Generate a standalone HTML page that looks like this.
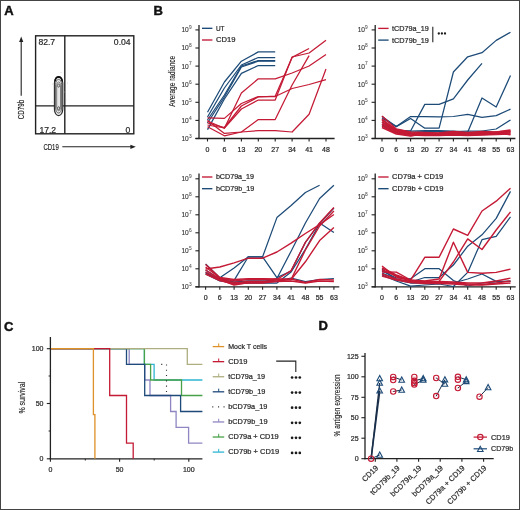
<!DOCTYPE html><html><head><meta charset="utf-8"><style>html,body{margin:0;padding:0;background:#fff;}svg{display:block;will-change:transform;font-family:"Liberation Sans",sans-serif;}</style></head><body>
<svg width="520" height="510" viewBox="0 0 520 510">
<rect x="0" y="0" width="520" height="510" fill="#fff"/>
<rect x="0.5" y="0.5" width="519" height="509" fill="none" stroke="#444" stroke-width="1"/>
<text x="4.2" y="15.4" font-size="13" font-weight="bold" fill="#111" stroke="#111" stroke-width="0.45">A</text>
<text x="153.4" y="15.2" font-size="13" font-weight="bold" fill="#111" stroke="#111" stroke-width="0.45">B</text>
<text x="4" y="330.5" font-size="13" font-weight="bold" fill="#111" stroke="#111" stroke-width="0.45">C</text>
<text x="318.4" y="329.8" font-size="13" font-weight="bold" fill="#111" stroke="#111" stroke-width="0.45">D</text>
<rect x="35.6" y="35.8" width="98.2" height="98" fill="none" stroke="#222" stroke-width="1.4"/>
<line x1="64.8" y1="35.8" x2="64.8" y2="133.8" stroke="#222" stroke-width="1.4"/>
<line x1="35.6" y1="105.9" x2="133.8" y2="105.9" stroke="#222" stroke-width="1.4"/>
<path d="M54.40,83.10 A4.2,6.5 0 0 1 62.80,83.10 V109.10 A4.2,6.5 0 0 1 54.40,109.10 Z" fill="#e6e6e6" stroke="#2a2a2a" stroke-width="1.1"/>
<path d="M55.60,84.40 A3.0,5.0 0 0 1 61.60,84.40 V108.00 A3.0,5.0 0 0 1 55.60,108.00 Z" fill="none" stroke="#555" stroke-width="0.9"/>
<path d="M56.70,85.60 A1.9,3.6 0 0 1 60.50,85.60 V107.20 A1.9,3.6 0 0 1 56.70,107.20 Z" fill="none" stroke="#666" stroke-width="0.8"/>
<ellipse cx="58.6" cy="85.6" rx="1.0" ry="1.6" fill="none" stroke="#444" stroke-width="0.8"/>
<ellipse cx="58.6" cy="108.2" rx="1.0" ry="1.6" fill="none" stroke="#444" stroke-width="0.8"/>
<path d="M55.0,81.5 Q55.4,77.0 58.6,76.8 Q61.8,77.0 62.2,81.5" fill="none" stroke="#111" stroke-width="1.7"/>
<circle cx="52.5" cy="84" r="0.4" fill="#aaa"/>
<circle cx="64.5" cy="92" r="0.4" fill="#aaa"/>
<circle cx="66" cy="100" r="0.4" fill="#aaa"/>
<circle cx="52" cy="102" r="0.4" fill="#aaa"/>
<circle cx="61" cy="72.5" r="0.4" fill="#aaa"/>
<circle cx="67.5" cy="83" r="0.4" fill="#aaa"/>
<circle cx="53" cy="111" r="0.4" fill="#aaa"/>
<circle cx="65.5" cy="112" r="0.4" fill="#aaa"/>
<text x="38.4" y="44.9" font-size="8.6" text-anchor="start" fill="#2a2a2a" stroke="#2a2a2a" stroke-width="0.22" >82.7</text>
<text x="130.6" y="44.9" font-size="8.6" text-anchor="end" fill="#2a2a2a" stroke="#2a2a2a" stroke-width="0.22" >0.04</text>
<text x="39.4" y="132.6" font-size="8.6" text-anchor="start" fill="#2a2a2a" stroke="#2a2a2a" stroke-width="0.22" >17.2</text>
<text x="130.4" y="132.6" font-size="8.6" text-anchor="end" fill="#2a2a2a" stroke="#2a2a2a" stroke-width="0.22" >0</text>
<line x1="21.2" y1="95.8" x2="21.2" y2="40" stroke="#222" stroke-width="1.1"/>
<polygon points="21.2,36.6 19.1,42 23.3,42" fill="#222"/>
<line x1="62.3" y1="146.8" x2="132" y2="146.8" stroke="#222" stroke-width="1.1"/>
<polygon points="135.8,146.8 130.4,144.7 130.4,148.9" fill="#222"/>
<text x="0" y="0" font-size="9" fill="#222" stroke="#222" stroke-width="0.15" textLength="15.4" lengthAdjust="spacingAndGlyphs" transform="translate(43.4,150.3)">CD19</text>
<text x="0" y="0" font-size="9" fill="#222" stroke="#222" stroke-width="0.15" textLength="19.4" lengthAdjust="spacingAndGlyphs" transform="translate(24.2,119.2) rotate(-90)">CD79b</text>
<line x1="199" y1="25" x2="199" y2="139.1" stroke="#222" stroke-width="1.3"/>
<line x1="195.4" y1="138.5" x2="334.6" y2="138.5" stroke="#222" stroke-width="1.3"/>
<line x1="195.4" y1="138.5" x2="199" y2="138.5" stroke="#222" stroke-width="1.1"/>
<text x="188.8" y="140.9" font-size="6.6" text-anchor="end" fill="#333" stroke="#333" stroke-width="0.12">10</text>
<text x="188.9" y="137.8" font-size="4.8" fill="#555" stroke="#555" stroke-width="0.08">3</text>
<line x1="195.4" y1="120.4" x2="199" y2="120.4" stroke="#222" stroke-width="1.1"/>
<text x="188.8" y="122.8" font-size="6.6" text-anchor="end" fill="#333" stroke="#333" stroke-width="0.12">10</text>
<text x="188.9" y="119.7" font-size="4.8" fill="#555" stroke="#555" stroke-width="0.08">4</text>
<line x1="195.4" y1="102.3" x2="199" y2="102.3" stroke="#222" stroke-width="1.1"/>
<text x="188.8" y="104.7" font-size="6.6" text-anchor="end" fill="#333" stroke="#333" stroke-width="0.12">10</text>
<text x="188.9" y="101.6" font-size="4.8" fill="#555" stroke="#555" stroke-width="0.08">5</text>
<line x1="195.4" y1="84.2" x2="199" y2="84.2" stroke="#222" stroke-width="1.1"/>
<text x="188.8" y="86.6" font-size="6.6" text-anchor="end" fill="#333" stroke="#333" stroke-width="0.12">10</text>
<text x="188.9" y="83.5" font-size="4.8" fill="#555" stroke="#555" stroke-width="0.08">6</text>
<line x1="195.4" y1="66.1" x2="199" y2="66.1" stroke="#222" stroke-width="1.1"/>
<text x="188.8" y="68.5" font-size="6.6" text-anchor="end" fill="#333" stroke="#333" stroke-width="0.12">10</text>
<text x="188.9" y="65.4" font-size="4.8" fill="#555" stroke="#555" stroke-width="0.08">7</text>
<line x1="195.4" y1="48.0" x2="199" y2="48.0" stroke="#222" stroke-width="1.1"/>
<text x="188.8" y="50.4" font-size="6.6" text-anchor="end" fill="#333" stroke="#333" stroke-width="0.12">10</text>
<text x="188.9" y="47.3" font-size="4.8" fill="#555" stroke="#555" stroke-width="0.08">8</text>
<line x1="195.4" y1="29.9" x2="199" y2="29.9" stroke="#222" stroke-width="1.1"/>
<text x="188.8" y="32.3" font-size="6.6" text-anchor="end" fill="#333" stroke="#333" stroke-width="0.12">10</text>
<text x="188.9" y="29.2" font-size="4.8" fill="#555" stroke="#555" stroke-width="0.08">9</text>
<line x1="207.5" y1="138.5" x2="207.5" y2="141.5" stroke="#222" stroke-width="1.1"/>
<text x="207.5" y="151.9" font-size="7" text-anchor="middle" fill="#2a2a2a" stroke="#2a2a2a" stroke-width="0.22" >0</text>
<line x1="224.4" y1="138.5" x2="224.4" y2="141.5" stroke="#222" stroke-width="1.1"/>
<text x="224.4" y="151.9" font-size="7" text-anchor="middle" fill="#2a2a2a" stroke="#2a2a2a" stroke-width="0.22" >6</text>
<line x1="241.4" y1="138.5" x2="241.4" y2="141.5" stroke="#222" stroke-width="1.1"/>
<text x="241.4" y="151.9" font-size="7" text-anchor="middle" fill="#2a2a2a" stroke="#2a2a2a" stroke-width="0.22" >13</text>
<line x1="258.3" y1="138.5" x2="258.3" y2="141.5" stroke="#222" stroke-width="1.1"/>
<text x="258.3" y="151.9" font-size="7" text-anchor="middle" fill="#2a2a2a" stroke="#2a2a2a" stroke-width="0.22" >20</text>
<line x1="275.2" y1="138.5" x2="275.2" y2="141.5" stroke="#222" stroke-width="1.1"/>
<text x="275.2" y="151.9" font-size="7" text-anchor="middle" fill="#2a2a2a" stroke="#2a2a2a" stroke-width="0.22" >27</text>
<line x1="292.1" y1="138.5" x2="292.1" y2="141.5" stroke="#222" stroke-width="1.1"/>
<text x="292.1" y="151.9" font-size="7" text-anchor="middle" fill="#2a2a2a" stroke="#2a2a2a" stroke-width="0.22" >34</text>
<line x1="309.1" y1="138.5" x2="309.1" y2="141.5" stroke="#222" stroke-width="1.1"/>
<text x="309.1" y="151.9" font-size="7" text-anchor="middle" fill="#2a2a2a" stroke="#2a2a2a" stroke-width="0.22" >41</text>
<line x1="326.0" y1="138.5" x2="326.0" y2="141.5" stroke="#222" stroke-width="1.1"/>
<text x="326.0" y="151.9" font-size="7" text-anchor="middle" fill="#2a2a2a" stroke="#2a2a2a" stroke-width="0.22" >48</text>
<polyline points="207.5,112.3 224.4,82.0 241.4,61.2 258.3,51.9 275.2,51.9" fill="none" stroke="#1d4b78" stroke-width="1.25" stroke-linejoin="round" />
<polyline points="207.5,117.0 224.4,88.0 241.4,65.0 258.3,57.5 275.2,57.5" fill="none" stroke="#1d4b78" stroke-width="1.25" stroke-linejoin="round" />
<polyline points="207.5,120.0 224.4,95.0 241.4,66.0 258.3,60.5 275.2,60.5" fill="none" stroke="#1d4b78" stroke-width="1.25" stroke-linejoin="round" />
<polyline points="207.5,123.0 224.4,97.0 241.4,67.0 258.3,61.2 275.2,61.2" fill="none" stroke="#1d4b78" stroke-width="1.25" stroke-linejoin="round" />
<polyline points="207.5,129.6 224.4,99.0 241.4,73.4 258.3,65.5 275.2,65.5" fill="none" stroke="#1d4b78" stroke-width="1.25" stroke-linejoin="round" />
<polyline points="207.5,121.0 224.4,128.3 241.4,93.1 258.3,78.8 275.2,78.9 292.1,73.0 309.1,66.0 326.0,54.6" fill="none" stroke="#c41a35" stroke-width="1.25" stroke-linejoin="round" />
<polyline points="207.5,123.0 224.4,127.5 241.4,106.0 258.3,97.0 275.2,96.2 292.1,57.4 309.1,48.5" fill="none" stroke="#c41a35" stroke-width="1.25" stroke-linejoin="round" />
<polyline points="207.5,125.0 224.4,128.0 241.4,109.0 258.3,100.0 275.2,100.0 292.1,57.0 309.1,53.0 326.0,40.3" fill="none" stroke="#c41a35" stroke-width="1.25" stroke-linejoin="round" />
<polyline points="207.5,117.8 224.4,118.4 241.4,103.5 258.3,96.5 275.2,96.5 292.1,88.5 309.1,84.5 326.0,79.7" fill="none" stroke="#c41a35" stroke-width="1.25" stroke-linejoin="round" />
<polyline points="207.5,120.5 224.4,133.4 241.4,132.0 258.3,119.6 275.2,119.6 292.1,85.0 309.1,55.6" fill="none" stroke="#c41a35" stroke-width="1.25" stroke-linejoin="round" />
<polyline points="207.5,126.7 224.4,135.8 241.4,132.0 258.3,130.6 275.2,130.6 292.1,132.0 309.1,114.3 326.0,69.0" fill="none" stroke="#c41a35" stroke-width="1.25" stroke-linejoin="round" />
<line x1="202.0" y1="28.3" x2="212.4" y2="28.3" stroke="#1d4b78" stroke-width="1.35"/>
<text x="215.9" y="30.7" font-size="7.4" text-anchor="start" fill="#2a2a2a" stroke="#2a2a2a" stroke-width="0.22"  textLength="8.6" lengthAdjust="spacingAndGlyphs">UT</text>
<line x1="202.0" y1="40.0" x2="212.4" y2="40.0" stroke="#c41a35" stroke-width="1.35"/>
<text x="215.9" y="42.4" font-size="7.4" text-anchor="start" fill="#2a2a2a" stroke="#2a2a2a" stroke-width="0.22"  textLength="19.5" lengthAdjust="spacingAndGlyphs">CD19</text>
<text x="0" y="0" font-size="8.6" fill="#222" stroke="#222" stroke-width="0.15" textLength="51" lengthAdjust="spacingAndGlyphs" transform="translate(175.2,106.8) rotate(-90)">Average radiance</text>
<line x1="375.2" y1="25" x2="375.2" y2="139.1" stroke="#222" stroke-width="1.3"/>
<line x1="371.59999999999997" y1="138.5" x2="515.4" y2="138.5" stroke="#222" stroke-width="1.3"/>
<line x1="371.59999999999997" y1="138.5" x2="375.2" y2="138.5" stroke="#222" stroke-width="1.1"/>
<text x="365.0" y="140.9" font-size="6.6" text-anchor="end" fill="#333" stroke="#333" stroke-width="0.12">10</text>
<text x="365.1" y="137.8" font-size="4.8" fill="#555" stroke="#555" stroke-width="0.08">3</text>
<line x1="371.59999999999997" y1="120.4" x2="375.2" y2="120.4" stroke="#222" stroke-width="1.1"/>
<text x="365.0" y="122.8" font-size="6.6" text-anchor="end" fill="#333" stroke="#333" stroke-width="0.12">10</text>
<text x="365.1" y="119.7" font-size="4.8" fill="#555" stroke="#555" stroke-width="0.08">4</text>
<line x1="371.59999999999997" y1="102.3" x2="375.2" y2="102.3" stroke="#222" stroke-width="1.1"/>
<text x="365.0" y="104.7" font-size="6.6" text-anchor="end" fill="#333" stroke="#333" stroke-width="0.12">10</text>
<text x="365.1" y="101.6" font-size="4.8" fill="#555" stroke="#555" stroke-width="0.08">5</text>
<line x1="371.59999999999997" y1="84.2" x2="375.2" y2="84.2" stroke="#222" stroke-width="1.1"/>
<text x="365.0" y="86.6" font-size="6.6" text-anchor="end" fill="#333" stroke="#333" stroke-width="0.12">10</text>
<text x="365.1" y="83.5" font-size="4.8" fill="#555" stroke="#555" stroke-width="0.08">6</text>
<line x1="371.59999999999997" y1="66.1" x2="375.2" y2="66.1" stroke="#222" stroke-width="1.1"/>
<text x="365.0" y="68.5" font-size="6.6" text-anchor="end" fill="#333" stroke="#333" stroke-width="0.12">10</text>
<text x="365.1" y="65.4" font-size="4.8" fill="#555" stroke="#555" stroke-width="0.08">7</text>
<line x1="371.59999999999997" y1="48.0" x2="375.2" y2="48.0" stroke="#222" stroke-width="1.1"/>
<text x="365.0" y="50.4" font-size="6.6" text-anchor="end" fill="#333" stroke="#333" stroke-width="0.12">10</text>
<text x="365.1" y="47.3" font-size="4.8" fill="#555" stroke="#555" stroke-width="0.08">8</text>
<line x1="371.59999999999997" y1="29.9" x2="375.2" y2="29.9" stroke="#222" stroke-width="1.1"/>
<text x="365.0" y="32.3" font-size="6.6" text-anchor="end" fill="#333" stroke="#333" stroke-width="0.12">10</text>
<text x="365.1" y="29.2" font-size="4.8" fill="#555" stroke="#555" stroke-width="0.08">9</text>
<line x1="382.0" y1="138.5" x2="382.0" y2="141.5" stroke="#222" stroke-width="1.1"/>
<text x="382.0" y="151.9" font-size="7" text-anchor="middle" fill="#2a2a2a" stroke="#2a2a2a" stroke-width="0.22" >0</text>
<line x1="396.3" y1="138.5" x2="396.3" y2="141.5" stroke="#222" stroke-width="1.1"/>
<text x="396.3" y="151.9" font-size="7" text-anchor="middle" fill="#2a2a2a" stroke="#2a2a2a" stroke-width="0.22" >6</text>
<line x1="410.6" y1="138.5" x2="410.6" y2="141.5" stroke="#222" stroke-width="1.1"/>
<text x="410.6" y="151.9" font-size="7" text-anchor="middle" fill="#2a2a2a" stroke="#2a2a2a" stroke-width="0.22" >13</text>
<line x1="424.8" y1="138.5" x2="424.8" y2="141.5" stroke="#222" stroke-width="1.1"/>
<text x="424.8" y="151.9" font-size="7" text-anchor="middle" fill="#2a2a2a" stroke="#2a2a2a" stroke-width="0.22" >20</text>
<line x1="439.1" y1="138.5" x2="439.1" y2="141.5" stroke="#222" stroke-width="1.1"/>
<text x="439.1" y="151.9" font-size="7" text-anchor="middle" fill="#2a2a2a" stroke="#2a2a2a" stroke-width="0.22" >27</text>
<line x1="453.4" y1="138.5" x2="453.4" y2="141.5" stroke="#222" stroke-width="1.1"/>
<text x="453.4" y="151.9" font-size="7" text-anchor="middle" fill="#2a2a2a" stroke="#2a2a2a" stroke-width="0.22" >34</text>
<line x1="467.7" y1="138.5" x2="467.7" y2="141.5" stroke="#222" stroke-width="1.1"/>
<text x="467.7" y="151.9" font-size="7" text-anchor="middle" fill="#2a2a2a" stroke="#2a2a2a" stroke-width="0.22" >41</text>
<line x1="482.0" y1="138.5" x2="482.0" y2="141.5" stroke="#222" stroke-width="1.1"/>
<text x="482.0" y="151.9" font-size="7" text-anchor="middle" fill="#2a2a2a" stroke="#2a2a2a" stroke-width="0.22" >48</text>
<line x1="496.2" y1="138.5" x2="496.2" y2="141.5" stroke="#222" stroke-width="1.1"/>
<text x="496.2" y="151.9" font-size="7" text-anchor="middle" fill="#2a2a2a" stroke="#2a2a2a" stroke-width="0.22" >55</text>
<line x1="510.5" y1="138.5" x2="510.5" y2="141.5" stroke="#222" stroke-width="1.1"/>
<text x="510.5" y="151.9" font-size="7" text-anchor="middle" fill="#2a2a2a" stroke="#2a2a2a" stroke-width="0.22" >63</text>
<polyline points="382.0,122.0 396.3,130.0 410.6,131.0 424.8,104.4 439.1,104.4 453.4,98.8 467.7,80.0 482.0,63.3" fill="none" stroke="#1d4b78" stroke-width="1.25" stroke-linejoin="round" />
<polyline points="382.0,116.5 396.3,126.6 410.6,118.5 424.8,128.2 439.1,128.2 453.4,72.0 467.7,56.8 482.0,52.7 496.2,40.4 510.5,32.3" fill="none" stroke="#1d4b78" stroke-width="1.25" stroke-linejoin="round" />
<polyline points="382.0,118.0 396.3,126.6 410.6,116.5 424.8,116.5 439.1,116.8 453.4,116.5 467.7,114.3 482.0,117.3 496.2,115.6 510.5,109.1" fill="none" stroke="#1d4b78" stroke-width="1.25" stroke-linejoin="round" />
<polyline points="382.0,124.0 396.3,131.0 410.6,131.0 424.8,130.5 439.1,130.5 453.4,131.0 467.7,132.3 482.0,98.0 496.2,107.0 510.5,75.6" fill="none" stroke="#1d4b78" stroke-width="1.25" stroke-linejoin="round" />
<polyline points="382.0,125.0 396.3,132.0 410.6,132.0 424.8,131.5 439.1,131.5 453.4,131.5 467.7,131.0 482.0,131.0 496.2,129.0 510.5,120.0" fill="none" stroke="#1d4b78" stroke-width="1.25" stroke-linejoin="round" />
<polyline points="382.0,116.0 396.3,129.0 410.6,132.0 424.8,132.5 439.1,133.0 453.4,131.5 467.7,132.5 482.0,131.5 496.2,132.0 510.5,130.0" fill="none" stroke="#c41a35" stroke-width="1.6" stroke-linejoin="round" />
<polyline points="382.0,119.0 396.3,130.5 410.6,133.5 424.8,134.0 439.1,134.0 453.4,133.0 467.7,134.0 482.0,133.0 496.2,133.5 510.5,131.5" fill="none" stroke="#c41a35" stroke-width="1.6" stroke-linejoin="round" />
<polyline points="382.0,122.0 396.3,131.5 410.6,134.0 424.8,135.0 439.1,135.0 453.4,134.0 467.7,135.0 482.0,134.5 496.2,134.0 510.5,133.0" fill="none" stroke="#c41a35" stroke-width="1.6" stroke-linejoin="round" />
<polyline points="382.0,124.0 396.3,132.0 410.6,135.0 424.8,135.5 439.1,135.5 453.4,135.0 467.7,135.5 482.0,135.0 496.2,134.5 510.5,134.0" fill="none" stroke="#c41a35" stroke-width="1.6" stroke-linejoin="round" />
<polyline points="382.0,126.0 396.3,133.0 410.6,135.5 424.8,134.5 439.1,134.5 453.4,133.5 467.7,134.0 482.0,134.0 496.2,133.0 510.5,132.0" fill="none" stroke="#c41a35" stroke-width="1.6" stroke-linejoin="round" />
<polyline points="382.0,127.5 396.3,134.0 410.6,136.0 424.8,133.5 439.1,133.0 453.4,132.0 467.7,133.0 482.0,132.5 496.2,132.5 510.5,134.8" fill="none" stroke="#c41a35" stroke-width="1.6" stroke-linejoin="round" />
<polyline points="382.0,120.0 396.3,130.0 410.6,133.0 424.8,134.0 439.1,133.5 453.4,132.5 467.7,133.5 482.0,134.0 496.2,132.0 510.5,131.0" fill="none" stroke="#c41a35" stroke-width="1.6" stroke-linejoin="round" />
<line x1="378.2" y1="28.4" x2="388.6" y2="28.4" stroke="#c41a35" stroke-width="1.35"/>
<text x="392.1" y="30.8" font-size="7.4" text-anchor="start" fill="#2a2a2a" stroke="#2a2a2a" stroke-width="0.22"  textLength="36.6" lengthAdjust="spacingAndGlyphs">tCD79a_19</text>
<line x1="378.2" y1="40.099999999999994" x2="388.6" y2="40.099999999999994" stroke="#1d4b78" stroke-width="1.35"/>
<text x="392.1" y="42.5" font-size="7.4" text-anchor="start" fill="#2a2a2a" stroke="#2a2a2a" stroke-width="0.22"  textLength="36.8" lengthAdjust="spacingAndGlyphs">tCD79b_19</text>
<line x1="432.8" y1="26.7" x2="432.8" y2="42.2" stroke="#222" stroke-width="1.1"/>
<circle cx="438.8" cy="33.5" r="1.15" fill="#1a1a1a"/>
<circle cx="441.9" cy="33.5" r="1.15" fill="#1a1a1a"/>
<circle cx="445.0" cy="33.5" r="1.15" fill="#1a1a1a"/>
<line x1="199" y1="173.5" x2="199" y2="287.40000000000003" stroke="#222" stroke-width="1.3"/>
<line x1="195.4" y1="286.8" x2="339.3" y2="286.8" stroke="#222" stroke-width="1.3"/>
<line x1="195.4" y1="286.8" x2="199" y2="286.8" stroke="#222" stroke-width="1.1"/>
<text x="188.8" y="289.2" font-size="6.6" text-anchor="end" fill="#333" stroke="#333" stroke-width="0.12">10</text>
<text x="188.9" y="286.1" font-size="4.8" fill="#555" stroke="#555" stroke-width="0.08">3</text>
<line x1="195.4" y1="268.8" x2="199" y2="268.8" stroke="#222" stroke-width="1.1"/>
<text x="188.8" y="271.2" font-size="6.6" text-anchor="end" fill="#333" stroke="#333" stroke-width="0.12">10</text>
<text x="188.9" y="268.1" font-size="4.8" fill="#555" stroke="#555" stroke-width="0.08">4</text>
<line x1="195.4" y1="250.8" x2="199" y2="250.8" stroke="#222" stroke-width="1.1"/>
<text x="188.8" y="253.2" font-size="6.6" text-anchor="end" fill="#333" stroke="#333" stroke-width="0.12">10</text>
<text x="188.9" y="250.1" font-size="4.8" fill="#555" stroke="#555" stroke-width="0.08">5</text>
<line x1="195.4" y1="232.8" x2="199" y2="232.8" stroke="#222" stroke-width="1.1"/>
<text x="188.8" y="235.2" font-size="6.6" text-anchor="end" fill="#333" stroke="#333" stroke-width="0.12">10</text>
<text x="188.9" y="232.1" font-size="4.8" fill="#555" stroke="#555" stroke-width="0.08">6</text>
<line x1="195.4" y1="214.8" x2="199" y2="214.8" stroke="#222" stroke-width="1.1"/>
<text x="188.8" y="217.2" font-size="6.6" text-anchor="end" fill="#333" stroke="#333" stroke-width="0.12">10</text>
<text x="188.9" y="214.1" font-size="4.8" fill="#555" stroke="#555" stroke-width="0.08">7</text>
<line x1="195.4" y1="196.8" x2="199" y2="196.8" stroke="#222" stroke-width="1.1"/>
<text x="188.8" y="199.2" font-size="6.6" text-anchor="end" fill="#333" stroke="#333" stroke-width="0.12">10</text>
<text x="188.9" y="196.1" font-size="4.8" fill="#555" stroke="#555" stroke-width="0.08">8</text>
<line x1="195.4" y1="178.8" x2="199" y2="178.8" stroke="#222" stroke-width="1.1"/>
<text x="188.8" y="181.2" font-size="6.6" text-anchor="end" fill="#333" stroke="#333" stroke-width="0.12">10</text>
<text x="188.9" y="178.1" font-size="4.8" fill="#555" stroke="#555" stroke-width="0.08">9</text>
<line x1="205.6" y1="286.8" x2="205.6" y2="289.8" stroke="#222" stroke-width="1.1"/>
<text x="205.6" y="300.2" font-size="7" text-anchor="middle" fill="#2a2a2a" stroke="#2a2a2a" stroke-width="0.22" >0</text>
<line x1="219.8" y1="286.8" x2="219.8" y2="289.8" stroke="#222" stroke-width="1.1"/>
<text x="219.8" y="300.2" font-size="7" text-anchor="middle" fill="#2a2a2a" stroke="#2a2a2a" stroke-width="0.22" >6</text>
<line x1="234.1" y1="286.8" x2="234.1" y2="289.8" stroke="#222" stroke-width="1.1"/>
<text x="234.1" y="300.2" font-size="7" text-anchor="middle" fill="#2a2a2a" stroke="#2a2a2a" stroke-width="0.22" >13</text>
<line x1="248.3" y1="286.8" x2="248.3" y2="289.8" stroke="#222" stroke-width="1.1"/>
<text x="248.3" y="300.2" font-size="7" text-anchor="middle" fill="#2a2a2a" stroke="#2a2a2a" stroke-width="0.22" >20</text>
<line x1="262.6" y1="286.8" x2="262.6" y2="289.8" stroke="#222" stroke-width="1.1"/>
<text x="262.6" y="300.2" font-size="7" text-anchor="middle" fill="#2a2a2a" stroke="#2a2a2a" stroke-width="0.22" >27</text>
<line x1="276.9" y1="286.8" x2="276.9" y2="289.8" stroke="#222" stroke-width="1.1"/>
<text x="276.9" y="300.2" font-size="7" text-anchor="middle" fill="#2a2a2a" stroke="#2a2a2a" stroke-width="0.22" >34</text>
<line x1="291.1" y1="286.8" x2="291.1" y2="289.8" stroke="#222" stroke-width="1.1"/>
<text x="291.1" y="300.2" font-size="7" text-anchor="middle" fill="#2a2a2a" stroke="#2a2a2a" stroke-width="0.22" >41</text>
<line x1="305.4" y1="286.8" x2="305.4" y2="289.8" stroke="#222" stroke-width="1.1"/>
<text x="305.4" y="300.2" font-size="7" text-anchor="middle" fill="#2a2a2a" stroke="#2a2a2a" stroke-width="0.22" >48</text>
<line x1="319.6" y1="286.8" x2="319.6" y2="289.8" stroke="#222" stroke-width="1.1"/>
<text x="319.6" y="300.2" font-size="7" text-anchor="middle" fill="#2a2a2a" stroke="#2a2a2a" stroke-width="0.22" >55</text>
<line x1="333.9" y1="286.8" x2="333.9" y2="289.8" stroke="#222" stroke-width="1.1"/>
<text x="333.9" y="300.2" font-size="7" text-anchor="middle" fill="#2a2a2a" stroke="#2a2a2a" stroke-width="0.22" >63</text>
<polyline points="205.6,264.0 219.8,277.7 234.1,268.0 248.3,256.8 262.6,256.8 276.9,217.6 291.1,205.5 305.4,192.5 319.6,185.2" fill="none" stroke="#1d4b78" stroke-width="1.25" stroke-linejoin="round" />
<polyline points="205.6,270.0 219.8,279.0 234.1,280.4 248.3,256.8 262.6,256.8 276.9,277.6 291.1,271.0 305.4,242.4 319.6,223.0 333.9,232.6" fill="none" stroke="#1d4b78" stroke-width="1.25" stroke-linejoin="round" />
<polyline points="205.6,272.0 219.8,280.0 234.1,282.0 248.3,282.0 262.6,282.0 276.9,278.5 291.1,251.2 305.4,223.0 319.6,198.5 333.9,185.2" fill="none" stroke="#1d4b78" stroke-width="1.25" stroke-linejoin="round" />
<polyline points="205.6,274.0 219.8,281.0 234.1,283.0 248.3,283.0 262.6,283.0 276.9,283.0 291.1,272.0 305.4,249.4 319.6,223.8 333.9,208.0" fill="none" stroke="#1d4b78" stroke-width="1.25" stroke-linejoin="round" />
<polyline points="205.6,273.0 219.8,280.0 234.1,282.0 248.3,280.8 262.6,280.8 276.9,281.0 291.1,278.0 305.4,281.6 319.6,279.5 333.9,278.5" fill="none" stroke="#1d4b78" stroke-width="1.25" stroke-linejoin="round" />
<polyline points="205.6,269.0 219.8,267.0 234.1,262.9 248.3,258.2 262.6,258.2 276.9,252.0 291.1,243.2 305.4,233.5 319.6,224.7 333.9,214.5" fill="none" stroke="#c41a35" stroke-width="1.4" stroke-linejoin="round" />
<polyline points="205.6,264.5 219.8,277.5 234.1,279.5 248.3,278.8 262.6,278.8 276.9,279.0 291.1,279.5 305.4,261.8 319.6,240.6 333.9,227.4" fill="none" stroke="#c41a35" stroke-width="1.4" stroke-linejoin="round" />
<polyline points="205.6,267.0 219.8,278.0 234.1,281.0 248.3,279.5 262.6,279.5 276.9,279.5 291.1,270.6 305.4,242.4 319.6,223.0 333.9,207.5" fill="none" stroke="#c41a35" stroke-width="1.4" stroke-linejoin="round" />
<polyline points="205.6,270.0 219.8,279.0 234.1,283.0 248.3,281.5 262.6,281.5 276.9,281.0 291.1,279.5 305.4,250.0 319.6,226.0 333.9,211.0" fill="none" stroke="#c41a35" stroke-width="1.4" stroke-linejoin="round" />
<polyline points="205.6,272.0 219.8,279.5 234.1,285.0 248.3,282.5 262.6,282.5 276.9,279.5 291.1,279.0 305.4,282.5 319.6,279.5 333.9,280.0" fill="none" stroke="#c41a35" stroke-width="1.4" stroke-linejoin="round" />
<polyline points="205.6,274.0 219.8,280.5 234.1,284.0 248.3,283.0 262.6,283.0 276.9,281.5 291.1,281.0 305.4,283.0 319.6,281.0 333.9,281.5" fill="none" stroke="#c41a35" stroke-width="1.4" stroke-linejoin="round" />
<line x1="202.0" y1="177.0" x2="212.4" y2="177.0" stroke="#c41a35" stroke-width="1.35"/>
<text x="215.9" y="179.4" font-size="7.4" text-anchor="start" fill="#2a2a2a" stroke="#2a2a2a" stroke-width="0.22"  textLength="38.1" lengthAdjust="spacingAndGlyphs">bCD79a_19</text>
<line x1="202.0" y1="188.7" x2="212.4" y2="188.7" stroke="#1d4b78" stroke-width="1.35"/>
<text x="215.9" y="191.1" font-size="7.4" text-anchor="start" fill="#2a2a2a" stroke="#2a2a2a" stroke-width="0.22"  textLength="38.3" lengthAdjust="spacingAndGlyphs">bCD79b_19</text>
<line x1="375.2" y1="173.5" x2="375.2" y2="287.40000000000003" stroke="#222" stroke-width="1.3"/>
<line x1="371.59999999999997" y1="286.8" x2="515.7" y2="286.8" stroke="#222" stroke-width="1.3"/>
<line x1="371.59999999999997" y1="286.8" x2="375.2" y2="286.8" stroke="#222" stroke-width="1.1"/>
<text x="365.0" y="289.2" font-size="6.6" text-anchor="end" fill="#333" stroke="#333" stroke-width="0.12">10</text>
<text x="365.1" y="286.1" font-size="4.8" fill="#555" stroke="#555" stroke-width="0.08">3</text>
<line x1="371.59999999999997" y1="268.8" x2="375.2" y2="268.8" stroke="#222" stroke-width="1.1"/>
<text x="365.0" y="271.2" font-size="6.6" text-anchor="end" fill="#333" stroke="#333" stroke-width="0.12">10</text>
<text x="365.1" y="268.1" font-size="4.8" fill="#555" stroke="#555" stroke-width="0.08">4</text>
<line x1="371.59999999999997" y1="250.8" x2="375.2" y2="250.8" stroke="#222" stroke-width="1.1"/>
<text x="365.0" y="253.2" font-size="6.6" text-anchor="end" fill="#333" stroke="#333" stroke-width="0.12">10</text>
<text x="365.1" y="250.1" font-size="4.8" fill="#555" stroke="#555" stroke-width="0.08">5</text>
<line x1="371.59999999999997" y1="232.8" x2="375.2" y2="232.8" stroke="#222" stroke-width="1.1"/>
<text x="365.0" y="235.2" font-size="6.6" text-anchor="end" fill="#333" stroke="#333" stroke-width="0.12">10</text>
<text x="365.1" y="232.1" font-size="4.8" fill="#555" stroke="#555" stroke-width="0.08">6</text>
<line x1="371.59999999999997" y1="214.8" x2="375.2" y2="214.8" stroke="#222" stroke-width="1.1"/>
<text x="365.0" y="217.2" font-size="6.6" text-anchor="end" fill="#333" stroke="#333" stroke-width="0.12">10</text>
<text x="365.1" y="214.1" font-size="4.8" fill="#555" stroke="#555" stroke-width="0.08">7</text>
<line x1="371.59999999999997" y1="196.8" x2="375.2" y2="196.8" stroke="#222" stroke-width="1.1"/>
<text x="365.0" y="199.2" font-size="6.6" text-anchor="end" fill="#333" stroke="#333" stroke-width="0.12">10</text>
<text x="365.1" y="196.1" font-size="4.8" fill="#555" stroke="#555" stroke-width="0.08">8</text>
<line x1="371.59999999999997" y1="178.8" x2="375.2" y2="178.8" stroke="#222" stroke-width="1.1"/>
<text x="365.0" y="181.2" font-size="6.6" text-anchor="end" fill="#333" stroke="#333" stroke-width="0.12">10</text>
<text x="365.1" y="178.1" font-size="4.8" fill="#555" stroke="#555" stroke-width="0.08">9</text>
<line x1="382.0" y1="286.8" x2="382.0" y2="289.8" stroke="#222" stroke-width="1.1"/>
<text x="382.0" y="300.2" font-size="7" text-anchor="middle" fill="#2a2a2a" stroke="#2a2a2a" stroke-width="0.22" >0</text>
<line x1="396.3" y1="286.8" x2="396.3" y2="289.8" stroke="#222" stroke-width="1.1"/>
<text x="396.3" y="300.2" font-size="7" text-anchor="middle" fill="#2a2a2a" stroke="#2a2a2a" stroke-width="0.22" >6</text>
<line x1="410.6" y1="286.8" x2="410.6" y2="289.8" stroke="#222" stroke-width="1.1"/>
<text x="410.6" y="300.2" font-size="7" text-anchor="middle" fill="#2a2a2a" stroke="#2a2a2a" stroke-width="0.22" >13</text>
<line x1="424.8" y1="286.8" x2="424.8" y2="289.8" stroke="#222" stroke-width="1.1"/>
<text x="424.8" y="300.2" font-size="7" text-anchor="middle" fill="#2a2a2a" stroke="#2a2a2a" stroke-width="0.22" >20</text>
<line x1="439.1" y1="286.8" x2="439.1" y2="289.8" stroke="#222" stroke-width="1.1"/>
<text x="439.1" y="300.2" font-size="7" text-anchor="middle" fill="#2a2a2a" stroke="#2a2a2a" stroke-width="0.22" >27</text>
<line x1="453.4" y1="286.8" x2="453.4" y2="289.8" stroke="#222" stroke-width="1.1"/>
<text x="453.4" y="300.2" font-size="7" text-anchor="middle" fill="#2a2a2a" stroke="#2a2a2a" stroke-width="0.22" >34</text>
<line x1="467.7" y1="286.8" x2="467.7" y2="289.8" stroke="#222" stroke-width="1.1"/>
<text x="467.7" y="300.2" font-size="7" text-anchor="middle" fill="#2a2a2a" stroke="#2a2a2a" stroke-width="0.22" >41</text>
<line x1="482.0" y1="286.8" x2="482.0" y2="289.8" stroke="#222" stroke-width="1.1"/>
<text x="482.0" y="300.2" font-size="7" text-anchor="middle" fill="#2a2a2a" stroke="#2a2a2a" stroke-width="0.22" >48</text>
<line x1="496.2" y1="286.8" x2="496.2" y2="289.8" stroke="#222" stroke-width="1.1"/>
<text x="496.2" y="300.2" font-size="7" text-anchor="middle" fill="#2a2a2a" stroke="#2a2a2a" stroke-width="0.22" >55</text>
<line x1="510.5" y1="286.8" x2="510.5" y2="289.8" stroke="#222" stroke-width="1.1"/>
<text x="510.5" y="300.2" font-size="7" text-anchor="middle" fill="#2a2a2a" stroke="#2a2a2a" stroke-width="0.22" >63</text>
<polyline points="382.0,271.0 396.3,278.0 410.6,278.8 424.8,268.7 439.1,268.7 453.4,280.6 467.7,286.0 482.0,283.0 496.2,282.0 510.5,281.0" fill="none" stroke="#1d4b78" stroke-width="1.25" stroke-linejoin="round" />
<polyline points="382.0,273.0 396.3,279.0 410.6,282.0 424.8,277.5 439.1,277.5 453.4,265.0 467.7,246.2 482.0,234.8 496.2,218.4 510.5,191.4" fill="none" stroke="#1d4b78" stroke-width="1.25" stroke-linejoin="round" />
<polyline points="382.0,275.0 396.3,281.0 410.6,286.2 424.8,285.0 439.1,284.0 453.4,286.5 467.7,272.4 482.0,239.7 496.2,236.4 510.5,216.8" fill="none" stroke="#1d4b78" stroke-width="1.25" stroke-linejoin="round" />
<polyline points="382.0,269.0 396.3,280.0 410.6,283.0 424.8,283.0 439.1,283.0 453.4,283.0 467.7,279.0 482.0,274.0 496.2,281.4 510.5,281.4" fill="none" stroke="#1d4b78" stroke-width="1.25" stroke-linejoin="round" />
<polyline points="382.0,268.0 396.3,275.0 410.6,280.2 424.8,257.3 439.1,257.3 453.4,229.0 467.7,235.4 482.0,211.0 496.2,201.2 510.5,188.2" fill="none" stroke="#c41a35" stroke-width="1.4" stroke-linejoin="round" />
<polyline points="382.0,272.0 396.3,272.1 410.6,280.0 424.8,281.0 439.1,279.0 453.4,242.2 467.7,272.4 482.0,273.2 496.2,272.4 510.5,269.1" fill="none" stroke="#c41a35" stroke-width="1.4" stroke-linejoin="round" />
<polyline points="382.0,270.0 396.3,276.0 410.6,281.0 424.8,282.0 439.1,281.4 453.4,262.0 467.7,238.9 482.0,249.5 496.2,230.0 510.5,211.9" fill="none" stroke="#c41a35" stroke-width="1.4" stroke-linejoin="round" />
<polyline points="382.0,266.0 396.3,277.0 410.6,280.5 424.8,281.5 439.1,281.5 453.4,282.0 467.7,283.0 482.0,283.0 496.2,281.0 510.5,278.1" fill="none" stroke="#c41a35" stroke-width="1.4" stroke-linejoin="round" />
<polyline points="382.0,274.0 396.3,279.0 410.6,281.5 424.8,282.5 439.1,282.5 453.4,283.0 467.7,284.0 482.0,284.5 496.2,283.0 510.5,281.0" fill="none" stroke="#c41a35" stroke-width="1.4" stroke-linejoin="round" />
<polyline points="382.0,276.0 396.3,280.0 410.6,282.5 424.8,283.5 439.1,283.5 453.4,284.0 467.7,285.0 482.0,285.0 496.2,284.0 510.5,283.0" fill="none" stroke="#c41a35" stroke-width="1.4" stroke-linejoin="round" />
<line x1="378.2" y1="177.0" x2="388.6" y2="177.0" stroke="#c41a35" stroke-width="1.35"/>
<text x="392.1" y="179.4" font-size="7.4" text-anchor="start" fill="#2a2a2a" stroke="#2a2a2a" stroke-width="0.22"  textLength="51.2" lengthAdjust="spacingAndGlyphs">CD79a + CD19</text>
<line x1="378.2" y1="188.7" x2="388.6" y2="188.7" stroke="#1d4b78" stroke-width="1.35"/>
<text x="392.1" y="191.1" font-size="7.4" text-anchor="start" fill="#2a2a2a" stroke="#2a2a2a" stroke-width="0.22"  textLength="51.4" lengthAdjust="spacingAndGlyphs">CD79b + CD19</text>
<line x1="50.4" y1="337" x2="50.4" y2="459.4" stroke="#222" stroke-width="1.3"/>
<line x1="49.8" y1="458.8" x2="202.4" y2="458.8" stroke="#222" stroke-width="1.3"/>
<line x1="46.8" y1="348.7" x2="50.4" y2="348.7" stroke="#222" stroke-width="1.1"/>
<text x="43.5" y="351.3" font-size="7" text-anchor="end" fill="#2a2a2a" stroke="#2a2a2a" stroke-width="0.22" >100</text>
<line x1="46.8" y1="403.5" x2="50.4" y2="403.5" stroke="#222" stroke-width="1.1"/>
<text x="43.5" y="406.1" font-size="7" text-anchor="end" fill="#2a2a2a" stroke="#2a2a2a" stroke-width="0.22" >50</text>
<line x1="46.8" y1="458.8" x2="50.4" y2="458.8" stroke="#222" stroke-width="1.1"/>
<text x="43.5" y="461.40000000000003" font-size="7" text-anchor="end" fill="#2a2a2a" stroke="#2a2a2a" stroke-width="0.22" >0</text>
<line x1="48.6" y1="376" x2="50.4" y2="376" stroke="#222" stroke-width="1"/>
<line x1="48.6" y1="431" x2="50.4" y2="431" stroke="#222" stroke-width="1"/>
<line x1="50.4" y1="458.8" x2="50.4" y2="461.8" stroke="#222" stroke-width="1.1"/>
<text x="50.4" y="472.2" font-size="7" text-anchor="middle" fill="#2a2a2a" stroke="#2a2a2a" stroke-width="0.22" >0</text>
<line x1="119.6" y1="458.8" x2="119.6" y2="461.8" stroke="#222" stroke-width="1.1"/>
<text x="119.6" y="472.2" font-size="7" text-anchor="middle" fill="#2a2a2a" stroke="#2a2a2a" stroke-width="0.22" >50</text>
<line x1="188.8" y1="458.8" x2="188.8" y2="461.8" stroke="#222" stroke-width="1.1"/>
<text x="188.8" y="472.2" font-size="7" text-anchor="middle" fill="#2a2a2a" stroke="#2a2a2a" stroke-width="0.22" >100</text>
<line x1="85.3" y1="458.8" x2="85.3" y2="460.5" stroke="#222" stroke-width="1"/>
<line x1="154.2" y1="458.8" x2="154.2" y2="460.5" stroke="#222" stroke-width="1"/>
<text x="0" y="0" font-size="9.3" fill="#222" stroke="#222" stroke-width="0.15" textLength="31.7" lengthAdjust="spacingAndGlyphs" transform="translate(25.0,413.5) rotate(-90)">% survival</text>
<path d="M51,348.6 H144.4 V364.4 H154.1 V380 H202.4" fill="none" stroke="#2fb5d2" stroke-width="1.3" />
<path d="M51,348.6 H129.2 V364.4 H144.7 V380 H150 V395.5 H170.6 V411.5 H176.1 V427.4 H188.6 V443.2 H202.4" fill="none" stroke="#8e86c2" stroke-width="1.3" />
<path d="M51,348.6 H144.4 V364.4 H150.6 V380 H181.5 V395.5 H202.4" fill="none" stroke="#48a148" stroke-width="1.3" />
<path d="M51,348.6 H126.5 V364.4 H144.7 V395.5 H180.6 V411.5 H202.4" fill="none" stroke="#1e4a7a" stroke-width="1.3" />
<path d="M161.2,364.4 H166.5 V395.5" fill="none" stroke="#333" stroke-width="1.1" stroke-dasharray="1.1 4.2"/>
<path d="M51,348.6 H187.3 V364.4 H202.4" fill="none" stroke="#aeae80" stroke-width="1.3" />
<path d="M51,348.6 H109.7 V395.5 H126.5 V443.2 H133.2 V458.7" fill="none" stroke="#c41a35" stroke-width="1.3" />
<path d="M51,348.6 H93.4 V414.7 H94.9 V458.7" fill="none" stroke="#de9128" stroke-width="1.3" />
<line x1="212.7" y1="346.6" x2="224.2" y2="346.6" stroke="#de9128" stroke-width="1.3"/>
<line x1="218.7" y1="343.40000000000003" x2="218.7" y2="346.6" stroke="#de9128" stroke-width="1"/>
<text x="228.2" y="348.5" font-size="7.3" text-anchor="start" fill="#2a2a2a" stroke="#2a2a2a" stroke-width="0.22"  textLength="38.8" lengthAdjust="spacingAndGlyphs">Mock T cells</text>
<line x1="212.7" y1="361.67" x2="224.2" y2="361.67" stroke="#c41a35" stroke-width="1.3"/>
<line x1="218.7" y1="358.47" x2="218.7" y2="361.67" stroke="#c41a35" stroke-width="1"/>
<text x="228.2" y="363.6" font-size="7.3" text-anchor="start" fill="#2a2a2a" stroke="#2a2a2a" stroke-width="0.22"  textLength="19.2" lengthAdjust="spacingAndGlyphs">CD19</text>
<line x1="212.7" y1="376.74" x2="224.2" y2="376.74" stroke="#aeae80" stroke-width="1.3"/>
<line x1="218.7" y1="373.54" x2="218.7" y2="376.74" stroke="#aeae80" stroke-width="1"/>
<text x="228.2" y="378.6" font-size="7.3" text-anchor="start" fill="#2a2a2a" stroke="#2a2a2a" stroke-width="0.22"  textLength="36.8" lengthAdjust="spacingAndGlyphs">tCD79a_19</text>
<circle cx="292.1" cy="377.5" r="1.35" fill="#1a1a1a"/>
<circle cx="296.0" cy="377.5" r="1.35" fill="#1a1a1a"/>
<circle cx="299.8" cy="377.5" r="1.35" fill="#1a1a1a"/>
<line x1="212.7" y1="391.81" x2="224.2" y2="391.81" stroke="#1e4a7a" stroke-width="1.3"/>
<line x1="218.7" y1="388.61" x2="218.7" y2="391.81" stroke="#1e4a7a" stroke-width="1"/>
<text x="228.2" y="393.7" font-size="7.3" text-anchor="start" fill="#2a2a2a" stroke="#2a2a2a" stroke-width="0.22"  textLength="37.2" lengthAdjust="spacingAndGlyphs">tCD79b_19</text>
<circle cx="292.1" cy="392.6" r="1.35" fill="#1a1a1a"/>
<circle cx="296.0" cy="392.6" r="1.35" fill="#1a1a1a"/>
<circle cx="299.8" cy="392.6" r="1.35" fill="#1a1a1a"/>
<rect x="212.2" y="406.28" width="1.1" height="1.2" fill="#333"/>
<rect x="218.0" y="406.28" width="1.1" height="1.2" fill="#333"/>
<rect x="223.5" y="406.28" width="1.1" height="1.2" fill="#333"/>
<text x="228.2" y="408.8" font-size="7.3" text-anchor="start" fill="#2a2a2a" stroke="#2a2a2a" stroke-width="0.22"  textLength="39.2" lengthAdjust="spacingAndGlyphs">bCD79a_19</text>
<circle cx="292.1" cy="407.7" r="1.35" fill="#1a1a1a"/>
<circle cx="296.0" cy="407.7" r="1.35" fill="#1a1a1a"/>
<circle cx="299.8" cy="407.7" r="1.35" fill="#1a1a1a"/>
<line x1="212.7" y1="421.95000000000005" x2="224.2" y2="421.95000000000005" stroke="#8e86c2" stroke-width="1.3"/>
<line x1="218.7" y1="418.75000000000006" x2="218.7" y2="421.95000000000005" stroke="#8e86c2" stroke-width="1"/>
<text x="228.2" y="423.9" font-size="7.3" text-anchor="start" fill="#2a2a2a" stroke="#2a2a2a" stroke-width="0.22"  textLength="39.4" lengthAdjust="spacingAndGlyphs">bCD79b_19</text>
<circle cx="292.1" cy="422.8" r="1.35" fill="#1a1a1a"/>
<circle cx="296.0" cy="422.8" r="1.35" fill="#1a1a1a"/>
<circle cx="299.8" cy="422.8" r="1.35" fill="#1a1a1a"/>
<line x1="212.7" y1="437.02000000000004" x2="224.2" y2="437.02000000000004" stroke="#48a148" stroke-width="1.3"/>
<line x1="218.7" y1="433.82000000000005" x2="218.7" y2="437.02000000000004" stroke="#48a148" stroke-width="1"/>
<text x="228.2" y="438.9" font-size="7.3" text-anchor="start" fill="#2a2a2a" stroke="#2a2a2a" stroke-width="0.22"  textLength="50.5" lengthAdjust="spacingAndGlyphs">CD79a + CD19</text>
<circle cx="292.1" cy="437.8" r="1.35" fill="#1a1a1a"/>
<circle cx="296.0" cy="437.8" r="1.35" fill="#1a1a1a"/>
<circle cx="299.8" cy="437.8" r="1.35" fill="#1a1a1a"/>
<line x1="212.7" y1="452.09000000000003" x2="224.2" y2="452.09000000000003" stroke="#2fb5d2" stroke-width="1.3"/>
<line x1="218.7" y1="448.89000000000004" x2="218.7" y2="452.09000000000003" stroke="#2fb5d2" stroke-width="1"/>
<text x="228.2" y="454.0" font-size="7.3" text-anchor="start" fill="#2a2a2a" stroke="#2a2a2a" stroke-width="0.22"  textLength="51.0" lengthAdjust="spacingAndGlyphs">CD79b + CD19</text>
<circle cx="292.1" cy="452.9" r="1.35" fill="#1a1a1a"/>
<circle cx="296.0" cy="452.9" r="1.35" fill="#1a1a1a"/>
<circle cx="299.8" cy="452.9" r="1.35" fill="#1a1a1a"/>
<path d="M276.2,361.1 H295.8 V372" fill="none" stroke="#222" stroke-width="1.1"/>
<line x1="365" y1="353.1" x2="365" y2="459.3" stroke="#222" stroke-width="1.3"/>
<line x1="364.4" y1="458.7" x2="493.7" y2="458.7" stroke="#222" stroke-width="1.3"/>
<line x1="361.4" y1="458.7" x2="365" y2="458.7" stroke="#222" stroke-width="1.1"/>
<text x="358.6" y="461.3" font-size="7" text-anchor="end" fill="#2a2a2a" stroke="#2a2a2a" stroke-width="0.22" >0</text>
<line x1="361.4" y1="438.2" x2="365" y2="438.2" stroke="#222" stroke-width="1.1"/>
<text x="358.6" y="440.8" font-size="7" text-anchor="end" fill="#2a2a2a" stroke="#2a2a2a" stroke-width="0.22" >25</text>
<line x1="361.4" y1="417.7" x2="365" y2="417.7" stroke="#222" stroke-width="1.1"/>
<text x="358.6" y="420.3" font-size="7" text-anchor="end" fill="#2a2a2a" stroke="#2a2a2a" stroke-width="0.22" >50</text>
<line x1="361.4" y1="397.3" x2="365" y2="397.3" stroke="#222" stroke-width="1.1"/>
<text x="358.6" y="399.9" font-size="7" text-anchor="end" fill="#2a2a2a" stroke="#2a2a2a" stroke-width="0.22" >75</text>
<line x1="361.4" y1="376.8" x2="365" y2="376.8" stroke="#222" stroke-width="1.1"/>
<text x="358.6" y="379.4" font-size="7" text-anchor="end" fill="#2a2a2a" stroke="#2a2a2a" stroke-width="0.22" >100</text>
<line x1="361.4" y1="356.3" x2="365" y2="356.3" stroke="#222" stroke-width="1.1"/>
<text x="358.6" y="358.9" font-size="7" text-anchor="end" fill="#2a2a2a" stroke="#2a2a2a" stroke-width="0.22" >125</text>
<line x1="375.3" y1="458.7" x2="375.3" y2="461.8" stroke="#222" stroke-width="1.1"/>
<text x="0" y="0" font-size="7.6" fill="#2a2a2a" stroke="#2a2a2a" stroke-width="0.2" text-anchor="end" transform="translate(378.7,468.4) rotate(-45)">CD19</text>
<line x1="396.9" y1="458.7" x2="396.9" y2="461.8" stroke="#222" stroke-width="1.1"/>
<text x="0" y="0" font-size="7.6" fill="#2a2a2a" stroke="#2a2a2a" stroke-width="0.2" text-anchor="end" transform="translate(400.3,468.4) rotate(-45)">tCD79b_19</text>
<line x1="418.6" y1="458.7" x2="418.6" y2="461.8" stroke="#222" stroke-width="1.1"/>
<text x="0" y="0" font-size="7.6" fill="#2a2a2a" stroke="#2a2a2a" stroke-width="0.2" text-anchor="end" transform="translate(422.0,468.4) rotate(-45)">bCD79a_19</text>
<line x1="440.2" y1="458.7" x2="440.2" y2="461.8" stroke="#222" stroke-width="1.1"/>
<text x="0" y="0" font-size="7.6" fill="#2a2a2a" stroke="#2a2a2a" stroke-width="0.2" text-anchor="end" transform="translate(443.6,468.4) rotate(-45)">bCD79a_19</text>
<line x1="461.9" y1="458.7" x2="461.9" y2="461.8" stroke="#222" stroke-width="1.1"/>
<text x="0" y="0" font-size="7.6" fill="#2a2a2a" stroke="#2a2a2a" stroke-width="0.2" text-anchor="end" transform="translate(465.3,468.4) rotate(-45)">CD79a + CD19</text>
<line x1="483.6" y1="458.7" x2="483.6" y2="461.8" stroke="#222" stroke-width="1.1"/>
<text x="0" y="0" font-size="7.6" fill="#2a2a2a" stroke="#2a2a2a" stroke-width="0.2" text-anchor="end" transform="translate(486.9,468.4) rotate(-45)">CD79b + CD19</text>
<text x="0" y="0" font-size="9.5" fill="#222" stroke="#222" stroke-width="0.15" textLength="62" lengthAdjust="spacingAndGlyphs" transform="translate(340.0,436.4) rotate(-90)">% antigen expression</text>
<line x1="371.1" y1="458.7" x2="379.7" y2="390.8" stroke="#1a2f4a" stroke-width="1.6"/>
<line x1="371.1" y1="458.7" x2="379.7" y2="383" stroke="#1a2f4a" stroke-width="1.3"/>
<line x1="371.1" y1="458.7" x2="379.7" y2="455" stroke="#1a2f4a" stroke-width="1.0"/>
<line x1="393.2" y1="376.9" x2="401.7" y2="380" stroke="#1a2f4a" stroke-width="1.0"/>
<line x1="393.2" y1="391.5" x2="401.7" y2="390" stroke="#1a2f4a" stroke-width="1.0"/>
<line x1="414.3" y1="380.8" x2="423.2" y2="378.5" stroke="#1a2f4a" stroke-width="1.0"/>
<line x1="414.3" y1="384.6" x2="423.2" y2="380" stroke="#1a2f4a" stroke-width="1.0"/>
<line x1="436.2" y1="378" x2="444.9" y2="384" stroke="#1a2f4a" stroke-width="1.0"/>
<line x1="436.2" y1="396.1" x2="444.9" y2="379.7" stroke="#1a2f4a" stroke-width="1.0"/>
<line x1="457.9" y1="376.8" x2="466.2" y2="379.7" stroke="#1a2f4a" stroke-width="1.0"/>
<line x1="457.9" y1="388" x2="466.2" y2="381.4" stroke="#1a2f4a" stroke-width="1.0"/>
<line x1="479.5" y1="396.7" x2="488.1" y2="387.5" stroke="#1a2f4a" stroke-width="1.0"/>
<circle cx="371.1" cy="458.7" r="2.7" fill="none" stroke="#c41a35" stroke-width="1.1"/>
<line x1="368.70000000000005" y1="458.7" x2="373.5" y2="458.7" stroke="#c41a35" stroke-width="0.5" opacity="0.5"/>
<circle cx="393.2" cy="376.9" r="2.7" fill="none" stroke="#c41a35" stroke-width="1.1"/>
<line x1="390.8" y1="376.9" x2="395.59999999999997" y2="376.9" stroke="#c41a35" stroke-width="0.5" opacity="0.5"/>
<circle cx="393.2" cy="380" r="2.7" fill="none" stroke="#c41a35" stroke-width="1.1"/>
<line x1="390.8" y1="380" x2="395.59999999999997" y2="380" stroke="#c41a35" stroke-width="0.5" opacity="0.5"/>
<circle cx="393.2" cy="391.5" r="2.7" fill="none" stroke="#c41a35" stroke-width="1.1"/>
<line x1="390.8" y1="391.5" x2="395.59999999999997" y2="391.5" stroke="#c41a35" stroke-width="0.5" opacity="0.5"/>
<circle cx="414.3" cy="376.9" r="2.7" fill="none" stroke="#c41a35" stroke-width="1.1"/>
<line x1="411.90000000000003" y1="376.9" x2="416.7" y2="376.9" stroke="#c41a35" stroke-width="0.5" opacity="0.5"/>
<circle cx="414.3" cy="380.8" r="2.7" fill="none" stroke="#c41a35" stroke-width="1.1"/>
<line x1="411.90000000000003" y1="380.8" x2="416.7" y2="380.8" stroke="#c41a35" stroke-width="0.5" opacity="0.5"/>
<circle cx="414.3" cy="383" r="2.7" fill="none" stroke="#c41a35" stroke-width="1.1"/>
<line x1="411.90000000000003" y1="383" x2="416.7" y2="383" stroke="#c41a35" stroke-width="0.5" opacity="0.5"/>
<circle cx="414.3" cy="384.6" r="2.7" fill="none" stroke="#c41a35" stroke-width="1.1"/>
<line x1="411.90000000000003" y1="384.6" x2="416.7" y2="384.6" stroke="#c41a35" stroke-width="0.5" opacity="0.5"/>
<circle cx="436.2" cy="378" r="2.7" fill="none" stroke="#c41a35" stroke-width="1.1"/>
<line x1="433.8" y1="378" x2="438.59999999999997" y2="378" stroke="#c41a35" stroke-width="0.5" opacity="0.5"/>
<circle cx="436.2" cy="396.1" r="2.7" fill="none" stroke="#c41a35" stroke-width="1.1"/>
<line x1="433.8" y1="396.1" x2="438.59999999999997" y2="396.1" stroke="#c41a35" stroke-width="0.5" opacity="0.5"/>
<circle cx="457.9" cy="376.8" r="2.7" fill="none" stroke="#c41a35" stroke-width="1.1"/>
<line x1="455.5" y1="376.8" x2="460.29999999999995" y2="376.8" stroke="#c41a35" stroke-width="0.5" opacity="0.5"/>
<circle cx="457.9" cy="379.7" r="2.7" fill="none" stroke="#c41a35" stroke-width="1.1"/>
<line x1="455.5" y1="379.7" x2="460.29999999999995" y2="379.7" stroke="#c41a35" stroke-width="0.5" opacity="0.5"/>
<circle cx="457.9" cy="388" r="2.7" fill="none" stroke="#c41a35" stroke-width="1.1"/>
<line x1="455.5" y1="388" x2="460.29999999999995" y2="388" stroke="#c41a35" stroke-width="0.5" opacity="0.5"/>
<circle cx="479.5" cy="396.7" r="2.7" fill="none" stroke="#c41a35" stroke-width="1.1"/>
<line x1="477.1" y1="396.7" x2="481.9" y2="396.7" stroke="#c41a35" stroke-width="0.5" opacity="0.5"/>
<polygon points="379.7,375.5 376.9,380.7 382.5,380.7" fill="none" stroke="#1d4b78" stroke-width="1.1"/>
<polygon points="379.7,380.0 376.9,385.2 382.5,385.2" fill="none" stroke="#1d4b78" stroke-width="1.1"/>
<polygon points="379.7,387.8 376.9,393.0 382.5,393.0" fill="none" stroke="#1d4b78" stroke-width="1.1"/>
<polygon points="379.7,452.0 376.9,457.2 382.5,457.2" fill="none" stroke="#1d4b78" stroke-width="1.1"/>
<polygon points="401.7,377.0 398.9,382.2 404.5,382.2" fill="none" stroke="#1d4b78" stroke-width="1.1"/>
<polygon points="401.7,387.0 398.9,392.2 404.5,392.2" fill="none" stroke="#1d4b78" stroke-width="1.1"/>
<polygon points="423.2,375.5 420.4,380.7 426.0,380.7" fill="none" stroke="#1d4b78" stroke-width="1.1"/>
<polygon points="423.2,377.0 420.4,382.2 426.0,382.2" fill="none" stroke="#1d4b78" stroke-width="1.1"/>
<polygon points="444.9,376.7 442.09999999999997,381.9 447.7,381.9" fill="none" stroke="#1d4b78" stroke-width="1.1"/>
<polygon points="444.9,381.0 442.09999999999997,386.2 447.7,386.2" fill="none" stroke="#1d4b78" stroke-width="1.1"/>
<polygon points="466.2,376.7 463.4,381.9 469.0,381.9" fill="none" stroke="#1d4b78" stroke-width="1.1"/>
<polygon points="466.2,378.4 463.4,383.59999999999997 469.0,383.59999999999997" fill="none" stroke="#1d4b78" stroke-width="1.1"/>
<polygon points="488.1,384.5 485.3,389.7 490.90000000000003,389.7" fill="none" stroke="#1d4b78" stroke-width="1.1"/>
<line x1="473.6" y1="437.1" x2="487" y2="437.1" stroke="#c41a35" stroke-width="1.2"/>
<circle cx="480.3" cy="437.1" r="2.7" fill="none" stroke="#c41a35" stroke-width="1.1"/>
<line x1="477.90000000000003" y1="437.1" x2="482.7" y2="437.1" stroke="#c41a35" stroke-width="0.5" opacity="0.5"/>
<text x="491" y="439.5" font-size="7.8" text-anchor="start" fill="#2a2a2a" stroke="#2a2a2a" stroke-width="0.22"  textLength="18.9" lengthAdjust="spacingAndGlyphs">CD19</text>
<line x1="473.6" y1="448.8" x2="487" y2="448.8" stroke="#1d4b78" stroke-width="1.2"/>
<polygon points="480.3,446.3 477.5,451.5 483.1,451.5" fill="none" stroke="#1d4b78" stroke-width="1.1"/>
<text x="491" y="451.2" font-size="7.8" text-anchor="start" fill="#2a2a2a" stroke="#2a2a2a" stroke-width="0.22"  textLength="22.3" lengthAdjust="spacingAndGlyphs">CD79b</text>
</svg></body></html>
